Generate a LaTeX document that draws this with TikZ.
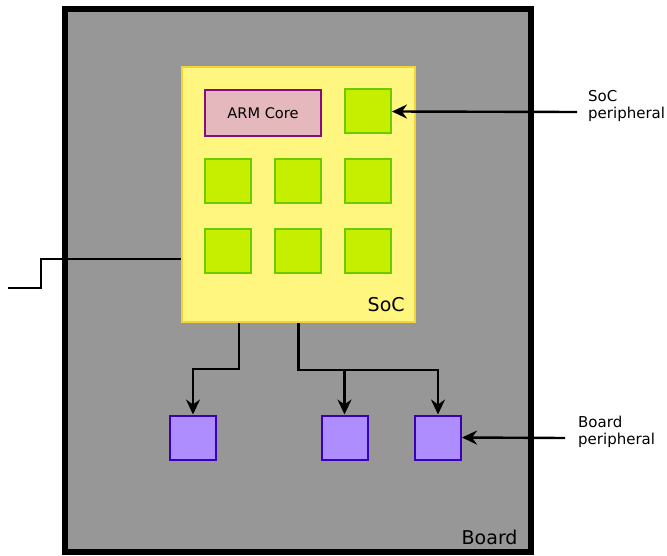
\documentclass[tikz,border=0pt]{standalone}
\usepackage{fontspec}
\setmainfont{DejaVu Sans}
\usetikzlibrary{arrows.meta,calc}
\definecolor{boardgray}{RGB}{151,151,151}
\definecolor{socfill}{RGB}{255,246,128}
\definecolor{socline}{RGB}{242,212,56}
\definecolor{armfill}{RGB}{228,184,188}
\definecolor{armline}{RGB}{138,10,128}
\definecolor{grfill}{RGB}{198,239,0}
\definecolor{grline}{RGB}{108,203,0}
\definecolor{pufill}{RGB}{174,141,255}
\definecolor{puline}{RGB}{58,0,184}
\tikzset{
  periph/.style={draw=grline, fill=grfill, line width=2pt, minimum width=46pt, minimum height=44pt, inner sep=0pt},
  boardp/.style={draw=puline, fill=pufill, line width=2pt, minimum width=46pt, minimum height=44pt, inner sep=0pt},
  conn/.style={draw=black, line width=2.4pt},
  arr/.style={conn, -{Stealth[length=15pt,width=14pt,inset=5pt]}},
  lab/.style={inner sep=0pt, align=left, font=\fontsize{15}{16.5}\selectfont},
  big/.style={inner sep=0pt, font=\fontsize{19}{20}\selectfont}
}
\begin{document}
\begin{tikzpicture}[x=1pt,y=-1pt]
\useasboundingbox (0,0) rectangle (667,556);
% board
\node[draw=black, fill=boardgray, line width=6pt, minimum width=466pt, minimum height=543pt, inner sep=0pt] (board) at (298,280.5) {};
\node[big, anchor=base west] (boardlab) at (461.5,544) {Board};
% SoC
\node[draw=socline, fill=socfill, line width=2pt, minimum width=233pt, minimum height=255pt, inner sep=0pt] (soc) at (298.5,194.5) {};
\node[big, anchor=base west] (soclab) at (367.5,312) {SoC};
% ARM core
\node[draw=armline, fill=armfill, line width=2pt, minimum width=116pt, minimum height=46pt, inner sep=0pt, font=\fontsize{14.6}{16}\selectfont] (arm) at (263,113) {ARM Core};
% SoC peripherals
\node[periph] (g13) at (368,111.5) {};
\node[periph] (g21) at (228,181.5) {};
\node[periph] (g22) at (298,181.5) {};
\node[periph] (g23) at (368,181.5) {};
\node[periph] (g31) at (228,251.5) {};
\node[periph] (g32) at (298,251.5) {};
\node[periph] (g33) at (368,251.5) {};
% board peripherals
\node[boardp] (p1) at (193,437.5) {};
\node[boardp] (p2) at (344.5,437.5) {};
\node[boardp] (p3) at (438,437.5) {};
% external line
\coordinate (ext) at (8,288);
\draw[conn] (ext) -- ++(33,0) -- ++(0,-29) -- (soc.west |- 0,259);
% connectors to board peripherals
\draw[arr] ($(soc.south)+(-59.5,0)$) -- ++(0,46) -| (p1.north);
\draw[arr] (soc.south) -- ++(0,47) -| (p2.north);
\draw[arr] (soc.south) -- ++(0,47) -| (p3.north);
% labels
\node[lab, anchor=north west] (socp) at (588,90.5) {SoC\\peripheral};
\coordinate (a1) at (577,112);
\draw[arr] (a1) -- (g13.east);
\node[lab, anchor=north west] (boardpl) at (578,416) {Board\\peripheral};
\coordinate (a2) at (565,438);
\draw[arr] (a2) -- (p3.east);
\end{tikzpicture}
\end{document}
